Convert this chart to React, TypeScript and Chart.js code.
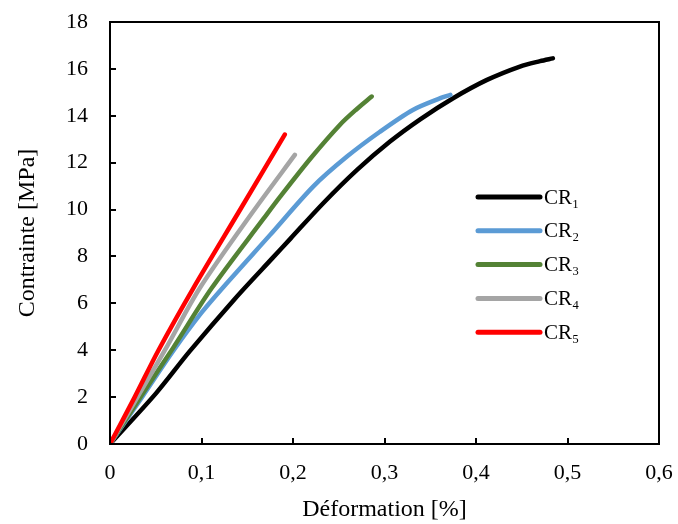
import React, { useEffect, useRef } from "react";
import { Chart, registerables } from "chart.js";

Chart.register(...registerables);

const seriesLabels = ["CR₁", "CR₂", "CR₃", "CR₄", "CR₅"];
const seriesColors = ["#000000", "#5B9BD5", "#548235", "#A5A5A5", "#FF0000"];

const cr1X = [0, 0.05, 0.087, 0.1366, 0.178, 0.197, 0.233, 0.27, 0.306, 0.339, 0.375, 0.412, 0.448, 0.47, 0.484];
const cr1Y = [0, 2.15, 3.95, 6.2, 7.95, 8.75, 10.27, 11.69, 12.9, 13.85, 14.75, 15.53, 16.1, 16.33, 16.45];

const cr2X = [0, 0.035, 0.0696, 0.1, 0.124, 0.175, 0.222, 0.259, 0.295, 0.331, 0.361, 0.372];
const cr2Y = [0, 2.0, 4.0, 5.6, 6.7, 8.92, 10.98, 12.26, 13.32, 14.25, 14.75, 14.89];

const cr3X = [0, 0.035, 0.069, 0.111, 0.168, 0.186, 0.22, 0.2514, 0.2695, 0.286];
const cr3Y = [0, 2.1, 4.1, 6.64, 9.62, 10.55, 12.22, 13.62, 14.28, 14.82];

const cr4X = [0, 0.03, 0.06, 0.098, 0.155, 0.202];
const cr4Y = [0, 2.0, 4.0, 6.64, 9.84, 12.33];

const cr5X = [0, 0.027, 0.053, 0.091, 0.142, 0.191];
const cr5Y = [0, 2.0, 4.0, 6.64, 9.98, 13.2];

const xTickValues = [0, 0.1, 0.2, 0.3, 0.4, 0.5, 0.6];
const xTickLabels = ["0", "0,1", "0,2", "0,3", "0,4", "0,5", "0,6"];
const yTickValues = [0, 2, 4, 6, 8, 10, 12, 14, 16, 18];
const yTickLabels = ["0", "2", "4", "6", "8", "10", "12", "14", "16", "18"];

const xTitle = "Déformation [%]";
const yTitle = "Contrainte [MPa]";

const FONT = "'Liberation Serif', 'Times New Roman', serif";

const pairs = (xs: number[], ys: number[]) => xs.map((x, i) => ({ x, y: ys[i] }));

const framePlugin = {
  id: "framePlugin",
  afterDraw(chart: any) {
    const { ctx, chartArea } = chart;
    const { left, right, top, bottom } = chartArea;
    ctx.save();
    ctx.strokeStyle = "#000";
    ctx.lineWidth = 2;
    const xs = chart.scales.x;
    const ys = chart.scales.y;
    xs.ticks.forEach((t: any) => {
      const px = Math.round(xs.getPixelForValue(t.value));
      ctx.beginPath();
      ctx.moveTo(px, bottom);
      ctx.lineTo(px, bottom - 6);
      ctx.stroke();
    });
    ys.ticks.forEach((t: any) => {
      const py = Math.round(ys.getPixelForValue(t.value));
      ctx.beginPath();
      ctx.moveTo(left, py);
      ctx.lineTo(left + 6, py);
      ctx.stroke();
    });
    ctx.strokeStyle = "#000";
    ctx.lineWidth = 2;
    ctx.strokeRect(left, top, right - left, bottom - top);
    const lx = left + 368;
    const ly0 = top + 175;
    const step = 33.8;
    chart.data.datasets.forEach((ds: any, i: number) => {
      const y = ly0 + i * step;
      ctx.strokeStyle = ds.borderColor;
      ctx.lineWidth = 5;
      ctx.lineCap = "round";
      ctx.beginPath();
      ctx.moveTo(lx, y);
      ctx.lineTo(lx + 62, y);
      ctx.stroke();
      ctx.fillStyle = "#000";
      ctx.font = `21px ${FONT}`;
      ctx.textBaseline = "middle";
      ctx.textAlign = "left";
      ctx.fillText(ds.label, lx + 66, y + 1);
    });
    ctx.restore();
  },
};

export default function App() {
  const ref = useRef<HTMLCanvasElement | null>(null);
  useEffect(() => {
    document.body.style.margin = "0";
    const canvas = ref.current;
    if (!canvas) return;
    const allX = [cr1X, cr2X, cr3X, cr4X, cr5X];
    const allY = [cr1Y, cr2Y, cr3Y, cr4Y, cr5Y];
    const chart = new Chart(canvas, {
      type: "scatter",
      data: {
        datasets: seriesLabels.map((label, i) => ({
          label,
          data: pairs(allX[i], allY[i]),
          showLine: true,
          borderColor: seriesColors[i],
          backgroundColor: seriesColors[i],
          borderWidth: 4.5,
          pointRadius: 0,
          borderCapStyle: "round",
          borderJoinStyle: "round",
          tension: 0.3,
          order: seriesLabels.length - i,
        })),
      },
      options: {
        animation: false,
        responsive: false,
        devicePixelRatio: 1,
        layout: { padding: { top: 22, right: 19, left: 0, bottom: 0 } },
        plugins: { legend: { display: false }, tooltip: { enabled: false } },
        scales: {
          x: {
            type: "linear",
            min: 0,
            max: 0.6,
            afterBuildTicks: (s: any) => {
              s.ticks = xTickValues.map((v) => ({ value: v }));
            },
            afterFit: (s: any) => {
              s.height = 80;
              s.paddingLeft = 0;
              s.paddingRight = 0;
              s.paddingTop = 0;
              s.paddingBottom = 0;
            },
            ticks: {
              callback: (v: any) => {
                const idx = xTickValues.findIndex((t) => Math.abs(t - Number(v)) < 1e-9);
                return idx >= 0 ? xTickLabels[idx] : "";
              },
              color: "#000",
              font: { family: FONT, size: 22 },
              padding: 16,
              maxRotation: 0,
              autoSkip: false,
            },
            grid: { display: false, drawTicks: false },
            border: { display: false },
            title: {
              display: true,
              text: xTitle,
              color: "#000",
              font: { family: FONT, size: 24 },
              padding: { top: 0, bottom: 0 },
            },
          },
          y: {
            type: "linear",
            min: 0,
            max: 18,
            afterBuildTicks: (s: any) => {
              s.ticks = yTickValues.map((v) => ({ value: v }));
            },
            afterFit: (s: any) => {
              s.width = 110;
              s.paddingLeft = 0;
              s.paddingRight = 0;
              s.paddingTop = 0;
              s.paddingBottom = 0;
            },
            ticks: {
              callback: (v: any) => {
                const idx = yTickValues.findIndex((t) => Math.abs(t - Number(v)) < 1e-9);
                return idx >= 0 ? yTickLabels[idx] : "";
              },
              color: "#000",
              font: { family: FONT, size: 22 },
              padding: 22,
              autoSkip: false,
            },
            grid: { display: false, drawTicks: false },
            border: { display: false },
            title: {
              display: true,
              text: yTitle,
              color: "#000",
              font: { family: FONT, size: 24 },
              padding: { top: 13, bottom: 0 },
            },
          },
        },
      },
      plugins: [framePlugin],
    } as any);
    return () => chart.destroy();
  }, []);
  return (
    <div style={{ position: "absolute", left: 0, top: 0, width: 678, height: 524, background: "#fff" }}>
      <canvas ref={ref} width={678} height={524} />
    </div>
  );
}
